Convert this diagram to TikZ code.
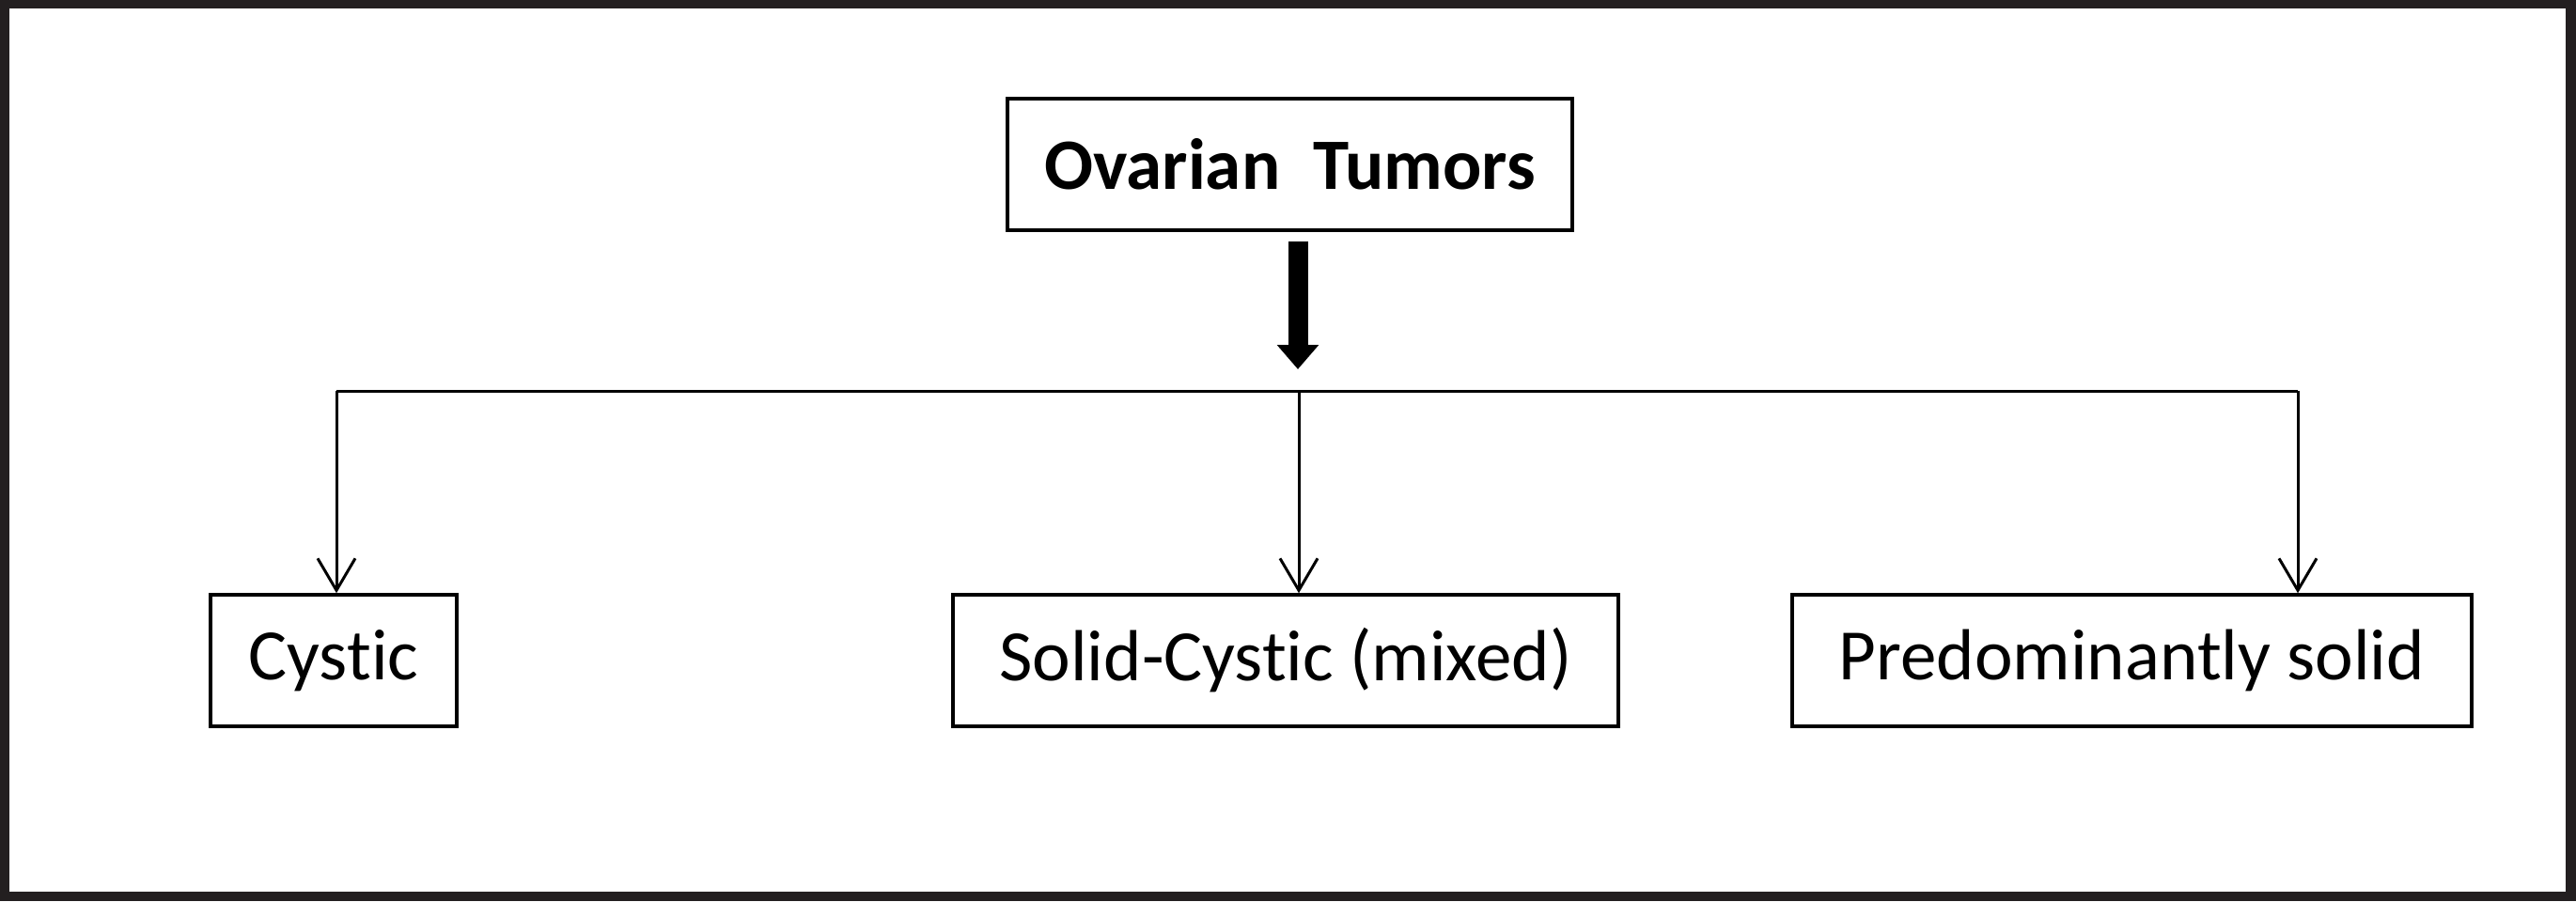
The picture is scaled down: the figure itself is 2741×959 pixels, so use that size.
\documentclass[tikz,border=0pt]{standalone}
\usepackage{fontspec}
\setmainfont[Ligatures=NoCommon,RawFeature={-liga;-clig}]{Carlito}
\usetikzlibrary{arrows.meta}
\definecolor{framecol}{HTML}{231F20}
\begin{document}
\begin{tikzpicture}[x=1pt,y=-1pt,
  box/.style={draw=black,line width=3.5pt,fill=white,inner sep=0pt,
    font=\fontsize{77}{90}\selectfont,text=black},
  conn/.style={draw=black,line width=3pt},
  thin arrow/.style={conn,-{Straight Barb[length=34pt,width=40pt,line width=3pt]}},
  thick arrow/.style={draw=black,line width=21pt,-{Triangle[length=26pt,width=43pt]}}]
\useasboundingbox (0,0) rectangle (2741,959);
\fill[framecol] (0,0) rectangle (2741,959);
\fill[white] (10,9) rectangle (2730,949);
\node[box,minimum width=601pt,minimum height=140pt] (top) at (1372.5,175) {\bfseries Ovarian\ \ Tumors};
\node[box,minimum width=262pt,minimum height=140pt] (cys) at (355,703) {\raisebox{-4pt}{Cystic}};
\node[box,minimum width=708pt,minimum height=140pt] (mix) at (1368,703) {\raisebox{-4pt}{Solid-Cystic (mixed)}};
\node[box,minimum width=723pt,minimum height=140pt] (sol) at (2268.5,703) {\raisebox{-4pt}{Predominantly solid}};
\coordinate (b1) at (358,416);
\coordinate (b2) at (1382,416);
\coordinate (b3) at (2445,416);
\coordinate (tk) at (1381,257);
\draw[thick arrow] (tk) -- ([yshift=23pt]b2 -| tk);
\draw[conn] (b1) -- (b3);
\draw[thin arrow] (b1) -- (b1 |- cys.north);
\draw[thin arrow] (b2) -- (b2 |- mix.north);
\draw[thin arrow] (b3) -- (b3 |- sol.north);
\end{tikzpicture}
\end{document}
